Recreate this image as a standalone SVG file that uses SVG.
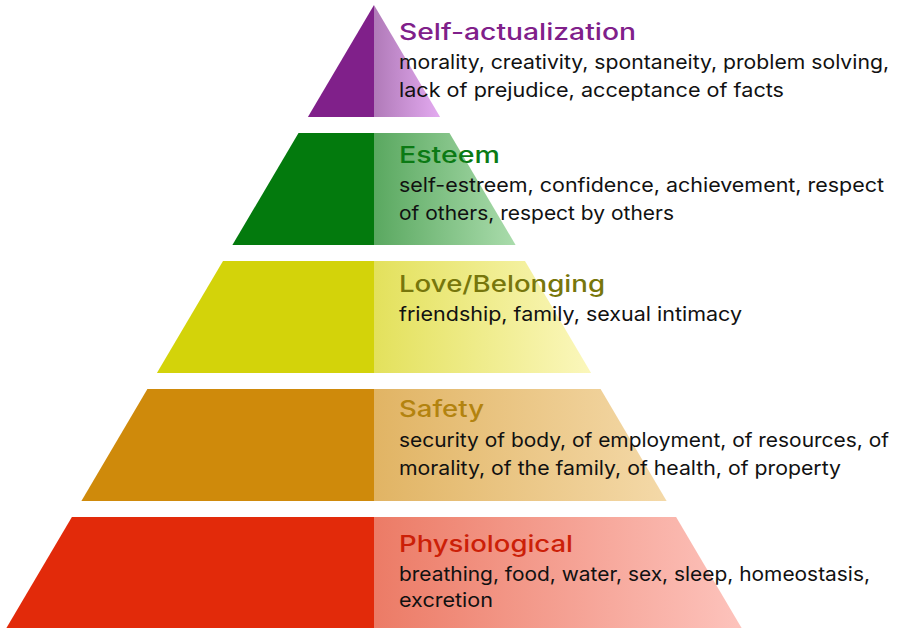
<svg xmlns="http://www.w3.org/2000/svg" width="899" height="628" viewBox="0 0 899 628">
<style>
.t{font-family:Inter,"Open Sans","Liberation Sans",sans-serif;font-size:22.5px;font-weight:500}
.b{font-family:Inter,"Open Sans","Liberation Sans",sans-serif;font-size:19.5px;fill:#111}
</style>
<defs>
<linearGradient id="gP" x1="0" x2="1" y1="0" y2="0"><stop offset="0" stop-color="#b07ab8"/><stop offset="1" stop-color="#e3aaf0"/></linearGradient>
<linearGradient id="gG" x1="0" x2="1" y1="0" y2="0"><stop offset="0" stop-color="#5aa860"/><stop offset="1" stop-color="#aadcac"/></linearGradient>
<linearGradient id="gY" x1="0" x2="1" y1="0" y2="0"><stop offset="0" stop-color="#e3e15c"/><stop offset="1" stop-color="#fbf7bc"/></linearGradient>
<linearGradient id="gO" x1="0" x2="1" y1="0" y2="0"><stop offset="0" stop-color="#e1b464"/><stop offset="1" stop-color="#f4d9a8"/></linearGradient>
<linearGradient id="gR" x1="0" x2="1" y1="0" y2="0"><stop offset="0" stop-color="#ec7b66"/><stop offset="1" stop-color="#fdc3bc"/></linearGradient>
</defs>
<rect width="899" height="628" fill="#fff"/>
<g id="self-actualization">
<polygon points="374,5 374,117 307.9,117" fill="#80208a"/>
<polygon points="374,5 440.1,117 374,117" fill="url(#gP)"/>
<text class="t" x="399" y="39.5" fill="#80208a" textLength="237" lengthAdjust="spacingAndGlyphs">Self-actualization</text>
<text class="b" x="399" y="68.5" textLength="490" lengthAdjust="spacingAndGlyphs">morality, creativity, spontaneity, problem solving,</text>
<text class="b" x="399" y="96.5" textLength="385" lengthAdjust="spacingAndGlyphs">lack of prejudice, acceptance of facts</text>
</g>
<g id="esteem">
<polygon points="298.5,133 374,133 374,245 232.4,245" fill="#037a0d"/>
<polygon points="374,133 449.5,133 515.6,245 374,245" fill="url(#gG)"/>
<text class="t" x="399" y="163" fill="#0b7a14" textLength="101" lengthAdjust="spacingAndGlyphs">Esteem</text>
<text class="b" x="399" y="192" textLength="485" lengthAdjust="spacingAndGlyphs">self-estreem, confidence, achievement, respect</text>
<text class="b" x="399" y="219.5" textLength="275" lengthAdjust="spacingAndGlyphs">of others, respect by others</text>
</g>
<g id="love-belonging">
<polygon points="223,261 374,261 374,373 156.9,373" fill="#d3d30a"/>
<polygon points="374,261 525,261 591.1,373 374,373" fill="url(#gY)"/>
<text class="t" x="399" y="291.5" fill="#77760c" textLength="206" lengthAdjust="spacingAndGlyphs">Love/Belonging</text>
<text class="b" x="399" y="320.5" textLength="343" lengthAdjust="spacingAndGlyphs">friendship, family, sexual intimacy</text>
</g>
<g id="safety">
<polygon points="147.4,389 374,389 374,501 81.4,501" fill="#cf8a0b"/>
<polygon points="374,389 600.6,389 666.6,501 374,501" fill="url(#gO)"/>
<text class="t" x="399" y="417" fill="#b3830f" textLength="85" lengthAdjust="spacingAndGlyphs">Safety</text>
<text class="b" x="399" y="446.5" textLength="490" lengthAdjust="spacingAndGlyphs">security of body, of employment, of resources, of</text>
<text class="b" x="399" y="475" textLength="442" lengthAdjust="spacingAndGlyphs">morality, of the family, of health, of property</text>
</g>
<g id="physiological">
<polygon points="71.9,517 374,517 374,628 6.4,628" fill="#e22a0a"/>
<polygon points="374,517 676.1,517 741.6,628 374,628" fill="url(#gR)"/>
<text class="t" x="399" y="552" fill="#cc1f08" textLength="174" lengthAdjust="spacingAndGlyphs">Physiological</text>
<text class="b" x="399" y="580.5" textLength="471" lengthAdjust="spacingAndGlyphs">breathing, food, water, sex, sleep, homeostasis,</text>
<text class="b" x="399" y="607" textLength="94" lengthAdjust="spacingAndGlyphs">excretion</text>
</g>
</svg>
